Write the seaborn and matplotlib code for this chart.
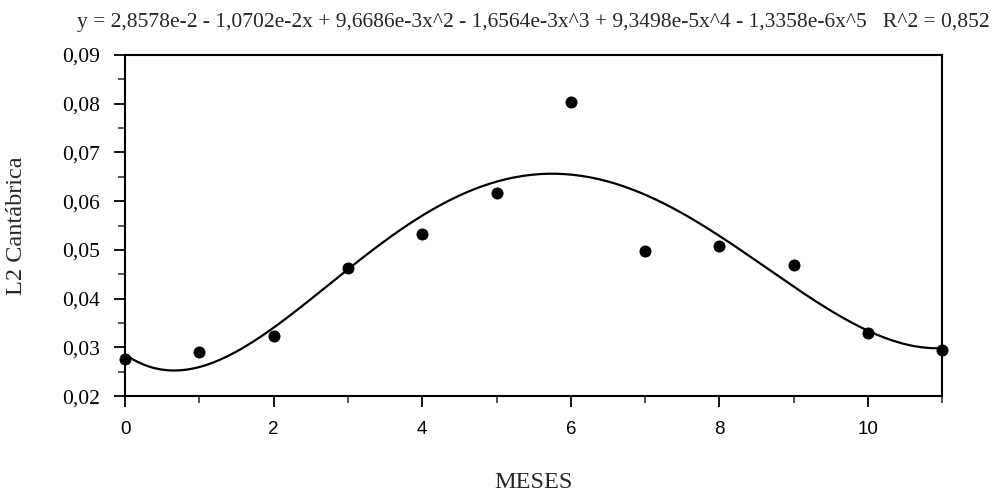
import numpy as np
import pandas as pd
import matplotlib
matplotlib.use('Agg')
import matplotlib.pyplot as plt
from matplotlib.ticker import MultipleLocator, FuncFormatter
import seaborn as sns

# Data
meses = [0, 1, 2, 3, 4, 5, 6, 7, 8, 9, 10, 11]
l2_cantabrica = [0.0276, 0.0290, 0.0324, 0.0463, 0.0533, 0.0617,
                 0.0804, 0.0497, 0.0507, 0.0468, 0.0329, 0.0294]

# Polynomial coefficients printed above the chart (constant term first)
coefs = [2.8578e-2, -1.0702e-2, 9.6686e-3, -1.6564e-3, 9.3498e-5, -1.3358e-6]
r2_label = '0,852'

sns.set_style('ticks')
plt.rcParams['font.family'] = ['Liberation Serif', 'DejaVu Serif']

fig = plt.figure(figsize=(10.02, 4.94), dpi=100)
ax = fig.add_axes([0.1248, 0.198, 0.8156, 0.691])

# fitted curve from the printed equation
xs = np.linspace(min(meses), max(meses), 200)
curve = pd.DataFrame({'x': xs, 'y': np.polyval(coefs[::-1], xs)})
sns.lineplot(data=curve, x='x', y='y', ax=ax, color='black', linewidth=1.6)

df = pd.DataFrame({'MESES': meses, 'L2': l2_cantabrica})
sns.scatterplot(data=df, x='MESES', y='L2', ax=ax, color='black', s=64,
                edgecolor='black', zorder=5, clip_on=False)

ax.set_xlim(0, 11)
ax.set_ylim(0.02, 0.09)
ax.xaxis.set_major_locator(MultipleLocator(2))
ax.xaxis.set_minor_locator(MultipleLocator(1))
ax.yaxis.set_major_locator(MultipleLocator(0.01))
ax.yaxis.set_minor_locator(MultipleLocator(0.005))
ax.yaxis.set_major_formatter(FuncFormatter(lambda v, p: f'{v:.2f}'.replace('.', ',')))

for sp in ax.spines.values():
    sp.set_visible(True)
    sp.set_linewidth(1.5)
    sp.set_color('black')

ax.tick_params(axis='both', which='major', direction='out', length=8, width=1.3,
               colors='black')
ax.tick_params(axis='both', which='minor', direction='out', length=5, width=1.1)
ax.tick_params(axis='y', labelsize=15.5, pad=10)
ax.tick_params(axis='x', labelsize=13.5, pad=10)
for lab in ax.get_xticklabels():
    lab.set_family(['Liberation Sans', 'DejaVu Sans'])

ax.set_xlabel('')
ax.set_ylabel('')
fig.text(0.532, 1 - 482 / 494, 'MESES', fontsize=17.5, ha='center', va='center')
fig.text(17 / 1002, 1 - 226 / 494, 'L2 Cantábrica', fontsize=17.5,
         rotation=90, ha='center', va='center')

title = ('y = 2,8578e-2 - 1,0702e-2x + 9,6686e-3x^2 - 1,6564e-3x^3 + '
         '9,3498e-5x^4 - 1,3358e-6x^5   R^2 = ' + r2_label)
fig.text(0.532, 1 - 22 / 494, title, fontsize=15.5, ha='center', va='center')

fig.savefig('out.png', dpi=100)
